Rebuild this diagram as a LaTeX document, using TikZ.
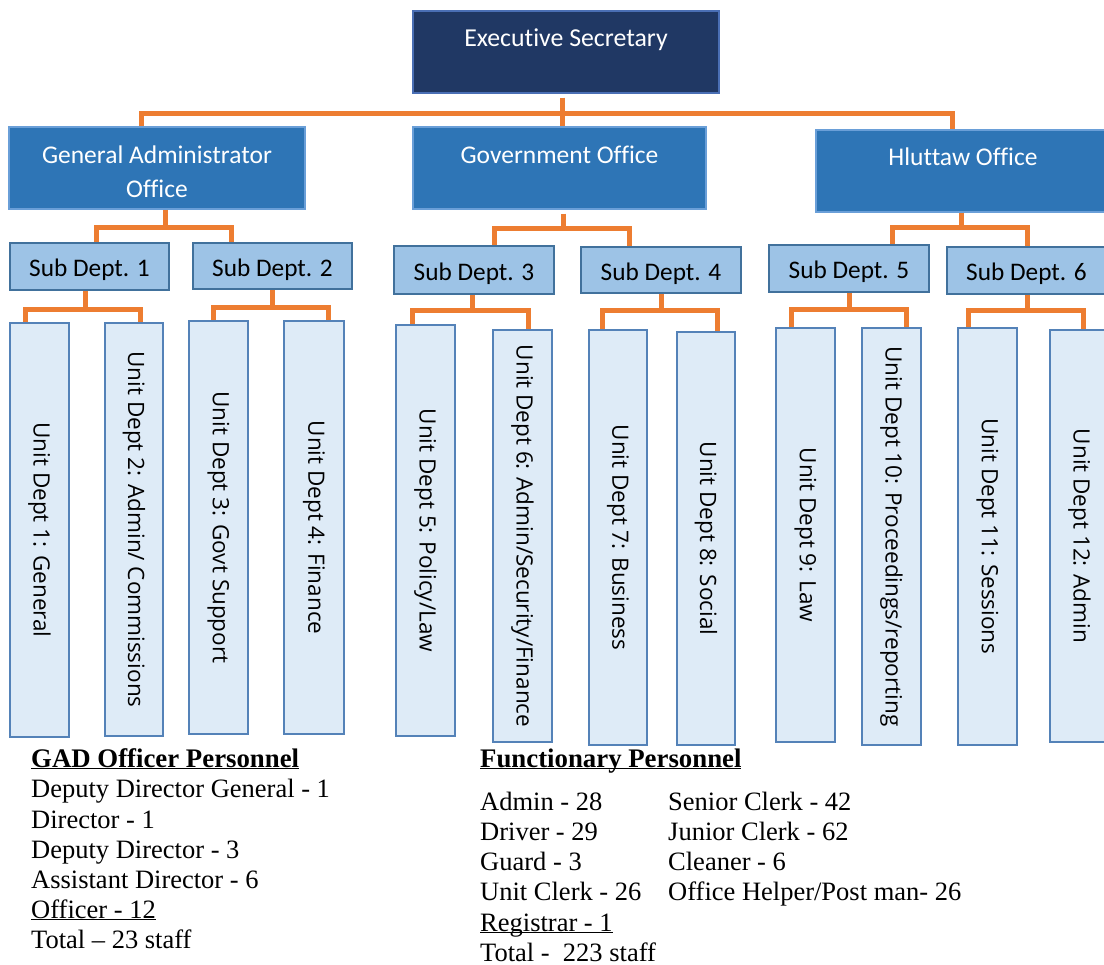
\documentclass[tikz,border=0pt]{standalone}
\usepackage{fontspec}
\setmainfont{Liberation Serif}
\newfontfamily\boxfont[Ligatures=NoCommon]{Carlito}
\newfontfamily\unitfont{Open Sans}
\definecolor{execfill}{HTML}{203864}
\definecolor{execborder}{HTML}{4A6FB5}
\definecolor{offfill}{HTML}{2E75B6}
\definecolor{offborder}{HTML}{6A9FD8}
\definecolor{sdfill}{HTML}{9DC3E6}
\definecolor{sdborder}{HTML}{41719C}
\definecolor{unitfill}{HTML}{DEEBF7}
\definecolor{unitborder}{HTML}{5482B8}
\definecolor{orangeline}{HTML}{ED7D31}
\tikzset{
  conn/.style={draw=orangeline, line width=5pt},
  execbox/.style={draw=execborder, fill=execfill, line width=1.5pt, inner sep=0pt,
    text=white, font={\boxfont\fontsize{25.8}{30}\selectfont}},
  offbox/.style={draw=offborder, fill=offfill, line width=1.5pt, inner sep=0pt,
    text=white, align=center, font={\boxfont\fontsize{25.5}{34}\selectfont}},
  toptext/.style={text height=17pt, text depth=27pt},
  sdbox/.style={draw=sdborder, fill=sdfill, line width=2pt, inner sep=0pt,
    text=black, text height=21pt, text depth=0pt, font={\boxfont\fontsize{25.3}{29}\selectfont}},
  unitbox/.style={draw=unitborder, fill=unitfill, line width=2pt, inner sep=0pt,
    text=black, font={\unitfont\fontsize{22.5}{27}\selectfont}},
  txt/.style={anchor=base west, inner sep=0pt, font={\fontsize{26.5}{30}\selectfont}},
  head/.style={anchor=base west, inner sep=0pt, font={\bfseries\fontsize{26.8}{30}\selectfont}}
}
\begin{document}
\begin{tikzpicture}[x=1pt,y=-1pt]
\useasboundingbox (0,0) rectangle (1104,965);
\clip (0,0) rectangle (1104,965);
\fill[white] (0,0) rectangle (1104,965);

% top levels
\node[execbox, toptext, minimum width=306pt, minimum height=82pt] (exec) at (566,52) {Executive Secretary};
\node[offbox, minimum width=296pt, minimum height=82pt] (gao) at (157,168) {\rule{0pt}{25pt}General Administrator\\Office};
\node[offbox, toptext, minimum width=293pt, minimum height=82pt, text depth=25pt] (govt) at (559.5,168) {Government Office};
\node[offbox, toptext, minimum width=294pt, minimum height=82pt] (hlut) at (963,171) {Hluttaw Office};

% sub departments
\node[sdbox, minimum width=159pt, minimum height=47pt] (sd1) at (89.5,266.5) {Sub Dept. 1};
\node[sdbox, minimum width=159pt, minimum height=46pt] (sd2) at (272.5,266) {Sub Dept. 2};
\node[sdbox, minimum width=160pt, minimum height=48pt] (sd3) at (474,270) {Sub Dept. 3};
\node[sdbox, minimum width=160pt, minimum height=46pt] (sd4) at (661,270) {Sub Dept. 4};
\node[sdbox, minimum width=160pt, minimum height=47pt] (sd5) at (849,268.5) {Sub Dept. 5};
\node[sdbox, minimum width=159pt, minimum height=47pt] (sd6) at (1026.5,270.5) {Sub Dept. 6};

% unit departments
\node[unitbox, minimum width=59pt, minimum height=414pt] (u1) at (39.5,530) {\rotatebox{-90}{Unit Dept 1: General}};
\node[unitbox, minimum width=58pt, minimum height=413pt] (u2) at (134,529.5) {\rotatebox{-90}{Unit Dept 2: Admin/ Commissions}};
\node[unitbox, minimum width=59pt, minimum height=413pt] (u3) at (218.5,527.5) {\rotatebox{-90}{Unit Dept 3: Govt Support}};
\node[unitbox, minimum width=60pt, minimum height=413pt] (u4) at (314,527.5) {\rotatebox{-90}{Unit Dept 4: Finance}};
\node[unitbox, minimum width=59pt, minimum height=411pt] (u5) at (425.5,530.5) {\rotatebox{-90}{Unit Dept 5: Policy/Law}};
\node[unitbox, minimum width=59pt, minimum height=412pt] (u6) at (522.5,536) {\rotatebox{-90}{Unit Dept 6: Admin/Security/Finance}};
\node[unitbox, minimum width=58pt, minimum height=415pt] (u7) at (618,537.5) {\rotatebox{-90}{Unit Dept 7: Business}};
\node[unitbox, minimum width=58pt, minimum height=413pt] (u8) at (706,538.5) {\rotatebox{-90}{Unit Dept 8: Social}};
\node[unitbox, minimum width=59pt, minimum height=414pt] (u9) at (805.5,535) {\rotatebox{-90}{Unit Dept 9: Law}};
\node[unitbox, minimum width=59pt, minimum height=417pt] (u10) at (891.5,536.5) {\rotatebox{-90}{Unit Dept 10: Proceedings/reporting}};
\node[unitbox, minimum width=59pt, minimum height=417pt] (u11) at (987.5,536.5) {\rotatebox{-90}{Unit Dept 11: Sessions}};
\node[unitbox, minimum width=59pt, minimum height=412pt] (u12) at (1079.5,536) {\rotatebox{-90}{Unit Dept 12: Admin}};

% connectors: executive -> offices
\draw[conn] ([xshift=-16pt]gao.north) -- ++(0,-13) -| ([xshift=-11pt]hlut.north);
\draw[conn] ([xshift=-4pt,yshift=-4pt]exec.south) -- ([xshift=-4pt]exec.south |- govt.north);
% offices -> sub departments
\draw[conn] ([xshift=6.5pt]sd1.north) -- ++(0,-14) -| ([xshift=-41.5pt]sd2.north);
\draw[conn] ([xshift=8pt]gao.south) -- ++(0,18);
\draw[conn] ([xshift=20pt]sd3.north) -- ++(0,-16) -| ([xshift=-32pt]sd4.north);
\draw[conn] ([xshift=3.5pt,yshift=-4pt]govt.south) -- ++(0,15);
\draw[conn] ([xshift=43pt]sd5.north) -- ++(0,-16) -| ([xshift=0.5pt]sd6.north);
\draw[conn] ([xshift=-2pt]hlut.south) -- ++(0,15);
% sub departments -> units
\draw[conn] ([xshift=-14.5pt]u1.north) -- ++(0,-12) -| ([xshift=6pt]u2.north);
\draw[conn] ([xshift=-4.5pt]sd1.south) -- ++(0,19);
\draw[conn] ([xshift=-5.5pt]u3.north) -- ++(0,-12) -| ([xshift=14pt]u4.north);
\draw[conn] (sd2.south) -- ++(0,18);
\draw[conn] ([xshift=-13.5pt]u5.north) -- ++(0,-13) -| ([xshift=5.5pt]u6.north);
\draw[conn] ([xshift=-2pt]sd3.south) -- ++(0,16);
\draw[conn] ([xshift=-16pt]u7.north) -- ++(0,-18) -| ([xshift=11pt]u8.north);
\draw[conn] (sd4.south) -- ++(0,17);
\draw[conn] ([xshift=-14.5pt]u9.north) -- ++(0,-17) -| ([xshift=14.5pt]u10.north);
\draw[conn] (sd5.south) -- ++(0,17);
\draw[conn] ([xshift=-19.5pt]u11.north) -- ++(0,-16) -| ([xshift=3.5pt]u12.north);
\draw[conn] ([xshift=0.5pt]sd6.south) -- ++(0,16);

% GAD officer personnel
\node[head] (g0) at (31,767) {\underbar{GAD Officer Personnel}};
\node[txt] (g1) at (31,797) {Deputy Director General - 1};
\node[txt] (g2) at (31,828) {Director - 1};
\node[txt] (g3) at (31,858) {Deputy Director - 3};
\node[txt] (g4) at (31,888) {Assistant Director - 6};
\node[txt] (g5) at (31,918) {\underbar{Officer - 12}};
\node[txt] (g6) at (31,948) {Total -- 23 staff};

% Functionary personnel
\node[head] (f0) at (480,767) {\underbar{Functionary Personnel}};
\node[txt] (f1) at (480,810) {Admin - 28};
\node[txt] (f2) at (480,840) {Driver - 29};
\node[txt] (f3) at (480,870) {Guard - 3};
\node[txt] (f4) at (480,900) {Unit Clerk - 26};
\node[txt] (f5) at (480,931) {\underbar{Registrar - 1}};
\node[txt] (f6) at (480,961) {Total -\ \ 223 staff};
\node[txt] (s1) at (668,810) {Senior Clerk - 42};
\node[txt] (s2) at (668,840) {Junior Clerk - 62};
\node[txt] (s3) at (668,870) {Cleaner - 6};
\node[txt] (s4) at (668,900) {Office Helper/Post man- 26};
\end{tikzpicture}
\end{document}
